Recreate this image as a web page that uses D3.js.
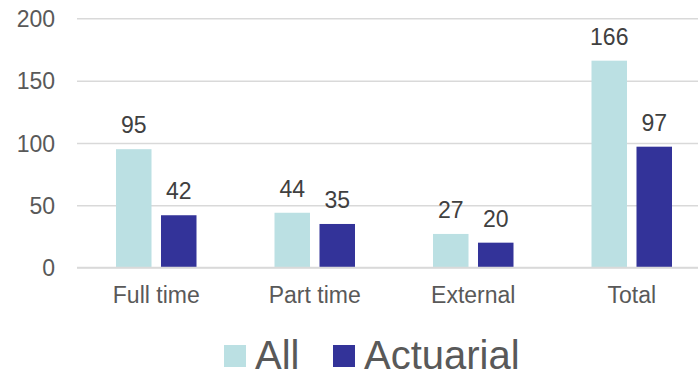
<!DOCTYPE html>
<html>
<head>
<meta charset="utf-8">
<script src="https://cdn.jsdelivr.net/npm/d3@7"></script>
<style>
  html, body { margin: 0; padding: 0; background: #fff; }
  svg { display: block; font-family: "Liberation Sans", Arial, sans-serif; }
</style>
</head>
<body>
<svg id="chart" width="698" height="377"></svg>
<script>
// Headcount by employment type
const categories = ["Full time", "Part time", "External", "Total"];
const seriesNames = ["All", "Actuarial"];
const allValues = [95, 44, 27, 166];
const actuarialValues = [42, 35, 20, 97];
const yTicks = [0, 50, 100, 150, 200];

const colors = { "All": "#BBE0E3", "Actuarial": "#333399" };

const rows = categories.map((c, i) => ({
  category: c,
  values: [
    { series: "All", value: allValues[i] },
    { series: "Actuarial", value: actuarialValues[i] }
  ]
}));

const svg = d3.select("#chart");
const plot = { left: 77, right: 711, top: 18.3, bottom: 267.6 };

const x0 = d3.scaleBand()
  .domain(categories)
  .range([plot.left, plot.right])
  .padding(0);

const groupPad = 39;
const x1 = d3.scaleBand()
  .domain(seriesNames)
  .range([groupPad, x0.bandwidth() - groupPad])
  .paddingInner(0.211)
  .paddingOuter(0);

const y = d3.scaleLinear()
  .domain([0, 200])
  .range([plot.bottom, plot.top]);

// Gridlines and y tick labels
const yAxis = d3.axisLeft(y)
  .tickValues(yTicks)
  .tickSize(-(plot.right - plot.left))
  .tickPadding(22)
  .tickFormat(d3.format("d"));

const gy = svg.append("g")
  .attr("transform", `translate(${plot.left},0)`)
  .call(yAxis);
gy.select(".domain").remove();
gy.selectAll(".tick line")
  .attr("stroke", "#D9D9D9")
  .attr("stroke-width", 1.5);
gy.selectAll(".tick text")
  .attr("fill", "#595959")
  .style("font-size", "23px")
  .attr("dy", "0.36em");

// Bars
const groups = svg.append("g")
  .selectAll("g")
  .data(rows)
  .join("g")
  .attr("transform", d => `translate(${x0(d.category)},0)`);

groups.selectAll("rect")
  .data(d => d.values)
  .join("rect")
  .attr("x", d => x1(d.series))
  .attr("width", x1.bandwidth())
  .attr("y", d => y(d.value))
  .attr("height", d => y(0) - y(d.value))
  .attr("fill", d => colors[d.series]);

// Value labels
groups.selectAll("text.value")
  .data(d => d.values)
  .join("text")
  .attr("class", "value")
  .attr("x", d => x1(d.series) + x1.bandwidth() / 2)
  .attr("y", d => y(d.value) - 16)
  .attr("text-anchor", "middle")
  .attr("fill", "#404040")
  .style("font-size", "23px")
  .text(d => d.value);

// Baseline redrawn over bar bottoms
svg.append("line")
  .attr("x1", plot.left).attr("x2", plot.right)
  .attr("y1", y(0)).attr("y2", y(0))
  .attr("stroke", "#D9D9D9")
  .attr("stroke-width", 1.5);

// Category axis labels
const xAxis = d3.axisBottom(x0).tickSize(0).tickPadding(19);
const gx = svg.append("g")
  .attr("transform", `translate(0,${plot.bottom})`)
  .call(xAxis);
gx.select(".domain").remove();
gx.selectAll(".tick text")
  .attr("fill", "#595959")
  .style("font-size", "23px");

// Legend
const legendItems = [
  { name: "All", x: 224 },
  { name: "Actuarial", x: 333 }
];
const legend = svg.append("g");
legend.selectAll("rect")
  .data(legendItems)
  .join("rect")
  .attr("x", d => d.x)
  .attr("y", 345)
  .attr("width", 22)
  .attr("height", 22)
  .attr("fill", d => colors[d.name]);
legend.selectAll("text")
  .data(legendItems)
  .join("text")
  .attr("x", d => d.x + 31)
  .attr("y", 368.5)
  .attr("fill", "#595959")
  .style("font-size", "40px")
  .text(d => d.name);
</script>
</body>
</html>
